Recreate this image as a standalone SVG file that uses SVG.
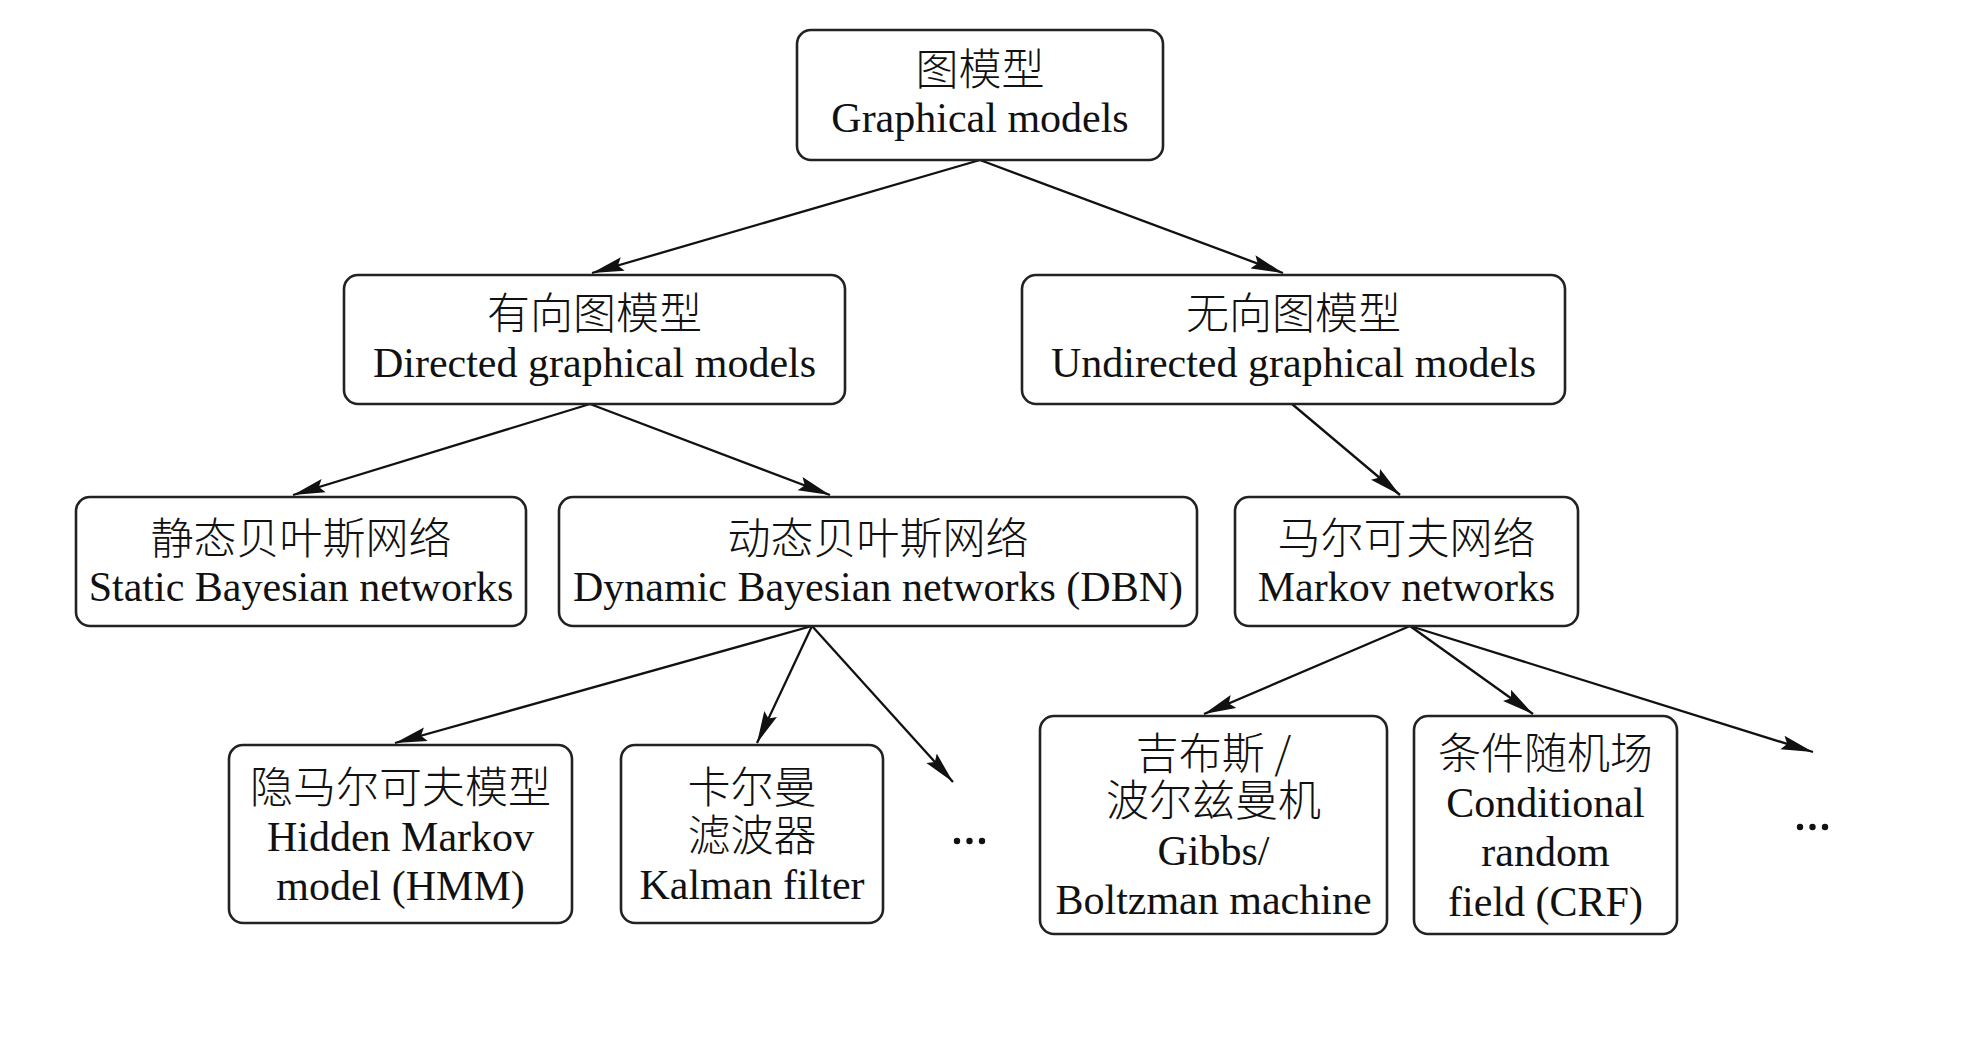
<svg xmlns="http://www.w3.org/2000/svg" width="1986" height="1062" viewBox="0 0 1986 1062">
<style>
.box{fill:#fff;stroke:#222;stroke-width:2.6}
.en{font-family:"Liberation Serif","Times New Roman",serif;font-size:42px;fill:#111;text-anchor:middle}
.cn{font-family:"Noto Sans CJK SC","Noto Sans CJK TC",sans-serif;font-size:43px;font-weight:300;fill:#111;text-anchor:middle}
.edge{stroke:#111;stroke-width:2.3;fill:none;marker-end:url(#arr)}
.dot{fill:#111}
</style>
<defs>
<marker id="arr" markerUnits="userSpaceOnUse" markerWidth="34" markerHeight="16" refX="32" refY="8" orient="auto">
<path d="M0,1 L32,8 L0,15 L5,8 Z" fill="#111"/>
</marker>
</defs>
<rect width="1986" height="1062" fill="#fff"/>
<g id="connectors">
<line class="edge" x1="980" y1="160" x2="592" y2="273"/>
<line class="edge" x1="980" y1="160" x2="1283" y2="273"/>
<line class="edge" x1="590" y1="404" x2="293" y2="495"/>
<line class="edge" x1="590" y1="404" x2="830" y2="495"/>
<line class="edge" x1="1292" y1="404" x2="1400" y2="495"/>
<line class="edge" x1="812" y1="626" x2="395" y2="743"/>
<line class="edge" x1="812" y1="626" x2="757" y2="743"/>
<line class="edge" x1="812" y1="626" x2="953" y2="782"/>
<line class="edge" x1="1410" y1="626" x2="1204" y2="714"/>
<line class="edge" x1="1410" y1="626" x2="1533" y2="714"/>
<line class="edge" x1="1410" y1="626" x2="1813" y2="752"/>
</g>
<g id="n-graphical">
<rect class="box" x="797" y="30" width="366" height="130" rx="14"/>
<text class="cn" x="980" y="85">图模型</text>
<text class="en" x="980" y="132">Graphical models</text>
</g>
<g id="n-directed">
<rect class="box" x="344" y="275" width="501" height="129" rx="14"/>
<text class="cn" x="594.5" y="329">有向图模型</text>
<text class="en" x="594.5" y="377">Directed graphical models</text>
</g>
<g id="n-undirected">
<rect class="box" x="1022" y="275" width="543" height="129" rx="14"/>
<text class="cn" x="1293.5" y="329">无向图模型</text>
<text class="en" x="1293.5" y="377">Undirected graphical models</text>
</g>
<g id="n-static">
<rect class="box" x="76" y="497" width="450" height="129" rx="14"/>
<text class="cn" x="301" y="554">静态贝叶斯网络</text>
<text class="en" x="301" y="601">Static Bayesian networks</text>
</g>
<g id="n-dbn">
<rect class="box" x="559" y="497" width="638" height="129" rx="14"/>
<text class="cn" x="878" y="554">动态贝叶斯网络</text>
<text class="en" x="878" y="601">Dynamic Bayesian networks (DBN)</text>
</g>
<g id="n-markov">
<rect class="box" x="1235" y="497" width="343" height="129" rx="14"/>
<text class="cn" x="1406.5" y="554">马尔可夫网络</text>
<text class="en" x="1406.5" y="601">Markov networks</text>
</g>
<g id="n-hmm">
<rect class="box" x="229" y="745" width="343" height="178" rx="14"/>
<text class="cn" x="400.5" y="803">隐马尔可夫模型</text>
<text class="en" x="400.5" y="851">Hidden Markov</text>
<text class="en" x="400.5" y="900">model (HMM)</text>
</g>
<g id="n-kalman">
<rect class="box" x="621" y="745" width="262" height="178" rx="14"/>
<text class="cn" x="752" y="803">卡尔曼</text>
<text class="cn" x="752" y="851">滤波器</text>
<text class="en" x="752" y="899">Kalman filter</text>
</g>
<g id="n-dots1">
<circle class="dot" cx="957" cy="841" r="3.2"/>
<circle class="dot" cx="969.5" cy="841" r="3.2"/>
<circle class="dot" cx="982" cy="841" r="3.2"/>
</g>
<g id="n-gibbs">
<rect class="box" x="1040" y="716" width="347" height="218" rx="14"/>
<text class="cn" x="1213.5" y="769">吉布斯 /</text>
<text class="cn" x="1213.5" y="816">波尔兹曼机</text>
<text class="en" x="1213.5" y="865">Gibbs/</text>
<text class="en" x="1213.5" y="914">Boltzman machine</text>
</g>
<g id="n-crf">
<rect class="box" x="1414" y="716" width="263" height="218" rx="14"/>
<text class="cn" x="1545.5" y="769">条件随机场</text>
<text class="en" x="1545.5" y="817">Conditional</text>
<text class="en" x="1545.5" y="866">random</text>
<text class="en" x="1545.5" y="916">field (CRF)</text>
</g>
<g id="n-dots2">
<circle class="dot" cx="1800" cy="827" r="3.2"/>
<circle class="dot" cx="1812.5" cy="827" r="3.2"/>
<circle class="dot" cx="1825" cy="827" r="3.2"/>
</g>
</svg>
